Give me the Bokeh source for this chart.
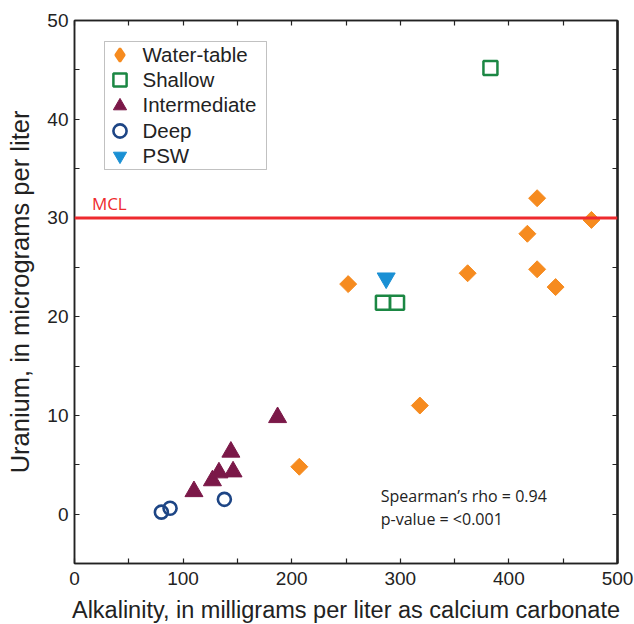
import numpy as np
from bokeh.plotting import figure
from bokeh.models import (LinearAxis, FixedTicker, Span, Label, Range1d,
                          CustomJSTickFormatter, Legend, BoxAnnotation)
from bokeh.embed import file_html
from bokeh.resources import INLINE

# ---- data ----
wt_alk = [207, 252, 318, 362, 417, 426, 426, 443, 476]
wt_u = [4.8, 23.3, 11.0, 24.4, 28.4, 32.0, 24.8, 23.0, 29.8]

shallow_alk = [284, 297, 383]
shallow_u = [21.4, 21.4, 45.2]

inter_alk = [110, 127, 133, 144, 146, 187]
inter_u = [2.3, 3.4, 4.2, 6.3, 4.3, 9.8]

deep_alk = [80, 88, 138]
deep_u = [0.2, 0.6, 1.5]

psw_alk = [287]
psw_u = [23.9]

mcl_value = 30
x_ticks = [0, 100, 200, 300, 400, 500]
x_minor = [50, 150, 250, 350, 450]
y_ticks = [0, 10, 20, 30, 40, 50]
y_minor = [-5, 5, 15, 25, 35, 45]

ORANGE = "#F68B1F"
GREEN = "#1B8743"
MAROON = "#7B1848"
NAVY = "#1D4585"
BLUE = "#1A90D4"
RED = "#EE2A2E"
FONT = "Liberation Sans"

p = figure(width=634, height=624, frame_width=543, frame_height=543,
           x_range=Range1d(0, 500), y_range=Range1d(-5, 50),
           output_backend="svg", toolbar_location=None,
           min_border_left=74, min_border_right=17, min_border_top=20,
           min_border_bottom=61)
p.xgrid.visible = False
p.ygrid.visible = False
p.outline_line_color = "#222222"
p.outline_line_width = 1.5
p.background_fill_color = "white"
p.border_fill_color = "white"

def style_axis(ax, ticks, minor):
    ax.ticker = FixedTicker(ticks=ticks, minor_ticks=minor)
    ax.major_tick_in = 5
    ax.major_tick_out = 0
    ax.minor_tick_in = 5
    ax.minor_tick_out = 0
    ax.axis_line_color = "#222222"
    ax.axis_line_width = 1.5
    ax.major_tick_line_color = "#222222"
    ax.minor_tick_line_color = "#222222"
    ax.major_tick_line_width = 1.2
    ax.minor_tick_line_width = 1.2
    ax.major_label_text_font = FONT
    ax.major_label_text_font_size = "19px"
    ax.major_label_text_color = "#222222"
    ax.axis_label_text_font = FONT
    ax.axis_label_text_font_style = "normal"
    ax.axis_label_text_color = "#222222"

style_axis(p.xaxis[0], x_ticks, x_minor)
style_axis(p.yaxis[0], y_ticks, y_minor)
p.xaxis[0].axis_label = "Alkalinity, in milligrams per liter as calcium carbonate"
p.xaxis[0].axis_label_text_font_size = "23.5px"
p.xaxis[0].major_label_standoff = 8
p.xaxis[0].axis_label_standoff = 9
p.yaxis[0].axis_label = "Uranium, in micrograms per liter"
p.yaxis[0].axis_label_text_font_size = "25.5px"
p.yaxis[0].major_label_standoff = 6
p.yaxis[0].axis_label_standoff = 10

blank = CustomJSTickFormatter(code="return ''")
top = LinearAxis(formatter=blank)
right = LinearAxis(formatter=blank)
style_axis(top, x_ticks, x_minor)
style_axis(right, y_ticks, y_minor)
right.axis_line_width = 2.5
top.major_label_standoff = 0
right.major_label_standoff = 0
top.major_label_text_font_size = "1px"
right.major_label_text_font_size = "1px"
p.add_layout(top, "above")
p.add_layout(right, "right")

# MCL line
p.add_layout(Span(location=mcl_value, dimension="width", line_color=RED,
                  line_width=3))
p.add_layout(Label(x=16, y=mcl_value, y_offset=3, text="MCL",
                   text_font="Open Sans", text_font_size="17px",
                   text_color=RED, text_baseline="bottom"))

r_wt = p.scatter(wt_alk, wt_u, marker="square", angle=np.pi / 4, size=12,
                 fill_color=ORANGE, line_color=ORANGE)
r_sh = p.scatter(shallow_alk, shallow_u, marker="square", size=14,
                 fill_color=None, line_color=GREEN, line_width=2.5)
r_in = p.scatter(inter_alk, inter_u, marker="triangle", size=18,
                 fill_color=MAROON, line_color=MAROON)
r_dp = p.scatter(deep_alk, deep_u, marker="circle", size=13,
                 fill_color=None, line_color=NAVY, line_width=2.6)
r_ps = p.scatter(psw_alk, psw_u, marker="inverted_triangle", size=18,
                 fill_color=BLUE, line_color=BLUE)

# legend key for the diamonds (legend glyphs ignore marker angle);
# a single NaN point so nothing is drawn in the plot itself
r_wt_key = p.scatter([np.nan], [np.nan], marker="diamond", fill_color=ORANGE,
                     line_color=ORANGE, line_width=2.5)

# legend frame
p.add_layout(BoxAnnotation(left=30, right=192, bottom=394, top=522,
                           left_units="screen", right_units="screen",
                           bottom_units="screen", top_units="screen",
                           fill_color="white", fill_alpha=1,
                           line_color="#333333", line_width=1,
                           editable=False))

legend_items = [("Water-table", r_wt_key), ("Shallow", r_sh),
                ("Intermediate", r_in), ("Deep", r_dp), ("PSW", r_ps)]
legend_rows = [492, 467, 441.5, 416, 391]
for (lab, rend), ypos in zip(legend_items, legend_rows):
    lg = Legend(items=[(lab, [rend])], location=(28.5, ypos))
    lg.label_text_font = FONT
    lg.label_text_font_size = "20.5px"
    lg.label_text_color = "#222222"
    lg.label_height = 20
    lg.glyph_height = 33
    lg.glyph_width = 33
    lg.label_standoff = 7
    lg.spacing = 0
    lg.padding = 0
    lg.margin = 0
    lg.border_line_color = None
    lg.background_fill_alpha = 0
    p.add_layout(lg, "center")

# statistics annotation
p.add_layout(Label(x=282, y=1.8, text="Spearman\u2019s rho = 0.94",
                   text_font="Open Sans", text_font_size="16px",
                   text_color="#222222", text_baseline="middle"))
p.add_layout(Label(x=282, y=-0.45, text="p-value = <0.001",
                   text_font="Open Sans", text_font_size="16px",
                   text_color="#222222", text_baseline="middle"))

open("out.html", "w").write(file_html(p, INLINE))
